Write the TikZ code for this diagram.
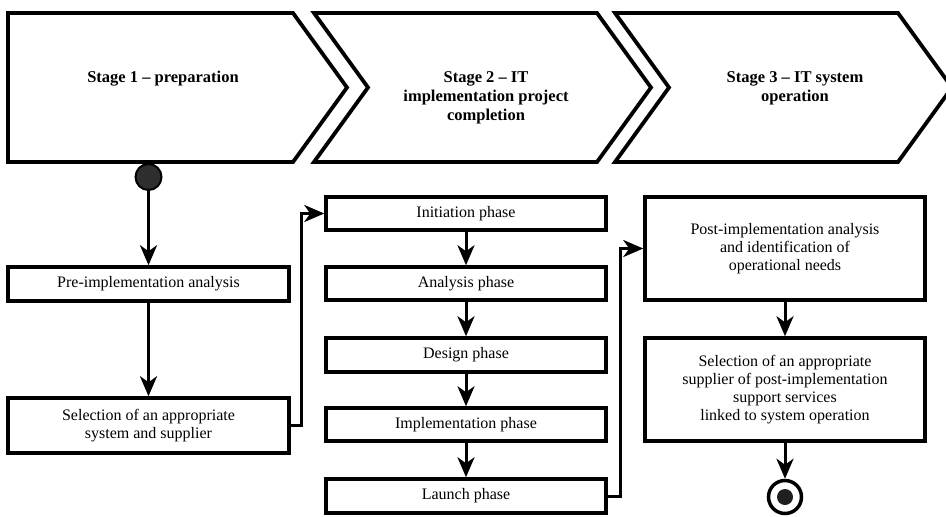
\documentclass[tikz,border=0pt]{standalone}
\usepackage{fontspec}
\setmainfont{Liberation Serif}
\usetikzlibrary{arrows.meta}
\begin{document}
\begin{tikzpicture}[x=1pt,y=-1pt,
  stage/.style={draw=black, line width=3.8pt, line join=miter, fill=white},
  stagetxt/.style={font=\fontsize{16.5}{19.3}\selectfont\bfseries, align=center, anchor=north, inner sep=0pt},
  box/.style={draw=black, line width=3.5pt, fill=white, align=center, inner sep=0pt, minimum width=280pt, font=\fontsize{16}{17.8}\selectfont},
  conn/.style={draw=black, line width=3pt, -{Stealth[length=20pt,width=17pt,inset=6pt]}},
]
\useasboundingbox (0,0) rectangle (946,517);
\clip (0,0) rectangle (946,517);
\fill[white] (0,0) rectangle (946,517);

% stage chevrons
\draw[stage] (8,13) -- (293,13) -- (347,87.5) -- (293,162) -- (8,162) -- cycle;
\draw[stage] (314,13) -- (597,13) -- (651,87.5) -- (597,162) -- (314,162) -- (368,87.5) -- cycle;
\draw[stage] (615,13) -- (898,13) -- (952,87.5) -- (898,162) -- (615,162) -- (669,87.5) -- cycle;

\node[stagetxt] (s1) at (163,71) {Stage 1 -- preparation};
\node[stagetxt] (s2) at (486,71) {Stage 2 -- IT\\implementation project\\completion};
\node[stagetxt] (s3) at (795,71) {Stage 3 -- IT system\\operation};

% start
\node[circle, draw=black, line width=2pt, fill=black!82, minimum size=26pt, inner sep=0pt] (start) at (148.5,177) {};

% stage 1 boxes
\node[box, minimum width=281pt, minimum height=34pt] (pre) at (148.5,284) {Pre-implementation analysis};
\node[box, minimum width=281pt, minimum height=55pt] (sel) at (148.5,425.5) {Selection of an appropriate\\system and supplier};

% stage 2 boxes
\node[box, minimum height=33pt] (init) at (466,213.5) {Initiation phase};
\node[box, minimum height=33pt] (ana) at (466,283.5) {Analysis phase};
\node[box, minimum height=34pt] (des) at (466,355) {Design phase};
\node[box, minimum height=33pt] (imp) at (466,424.5) {Implementation phase};
\node[box, minimum height=34pt] (lau) at (466,496) {Launch phase};

% stage 3 boxes
\node[box, minimum height=103pt] (post) at (785,248.5) {Post-implementation analysis\\and identification of\\operational needs};
\node[box, minimum height=103pt] (sup) at (785,389.5) {Selection of an appropriate\\supplier of post-implementation\\support services\\linked to system operation};

% end
\node[circle, draw=black, line width=3.5pt, fill=white, minimum size=33pt, inner sep=0pt] (end) at (785,497) {};
\node[circle, fill=black!88, minimum size=16pt, inner sep=0pt] (enddot) at (end.center) {};

% connectors
\draw[conn] (start.south) -- (pre.north);
\draw[conn] (pre.south) -- (sel.north);
\draw[conn] (sel.east) -- ++(11,0) |- (init.west);
\draw[conn] (init.south) -- (ana.north);
\draw[conn] (ana.south) -- (des.north);
\draw[conn] (des.south) -- (imp.north);
\draw[conn] (imp.south) -- (lau.north);
\draw[conn] (lau.east) -- ++(13,0) |- (post.west);
\draw[conn] (post.south) -- (sup.north);
\draw[conn] (sup.south) -- (end.north);
\end{tikzpicture}
\end{document}
